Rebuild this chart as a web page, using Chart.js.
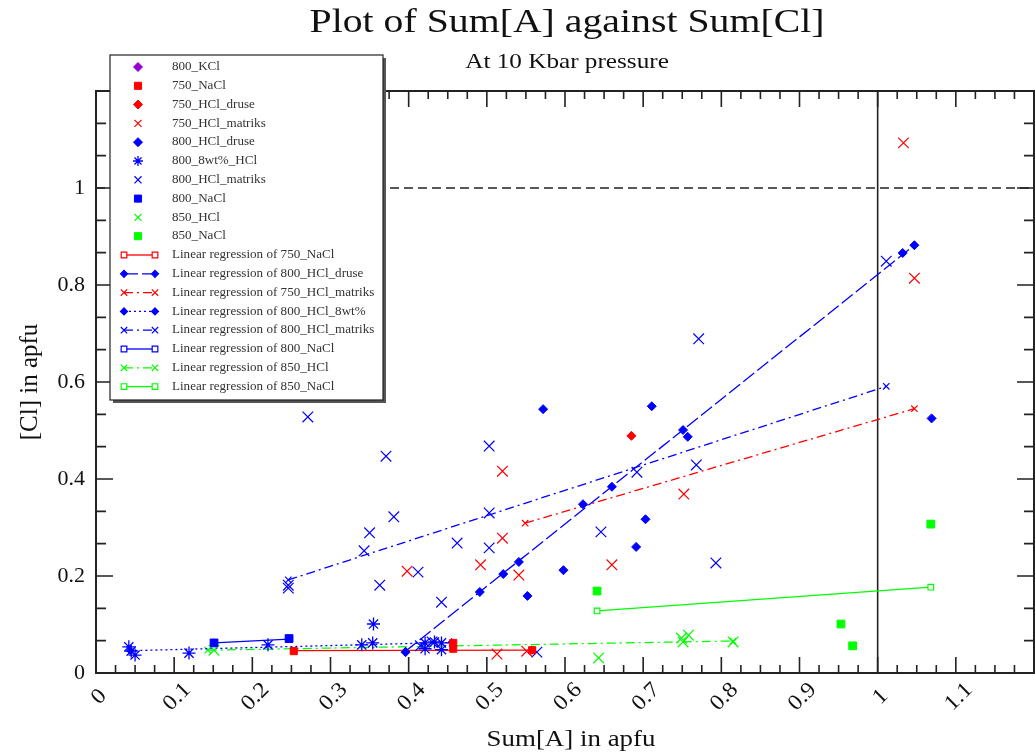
<!DOCTYPE html>
<html lang="en">
<head>
<meta charset="UTF-8">
<title>Plot of Sum[A] against Sum[Cl]</title>
<script src="https://cdn.jsdelivr.net/npm/chart.js"></script>
<style>
  html, body { margin: 0; background: #fff; overflow: hidden; }
  .wrap { position: relative; width: 1035px; height: 755px; }
  canvas { display: block; }
</style>
</head>
<body>
<div class="wrap"><canvas id="plot"></canvas></div>
<script>
// values: Sum[A] (x) and [Cl] (y), in apfu
const kcl800X = [];
const kcl800Y = [];
const nacl750X = [0.253, 0.457, 0.457, 0.558];
const nacl750Y = [0.045, 0.062, 0.050, 0.047];
const hcl750DruseX = [0.685];
const hcl750DruseY = [0.489];
const hcl750MatriksX = [1.033, 1.047, 0.520, 0.520, 0.492, 0.541, 0.660, 0.752, 0.398, 0.513, 0.551];
const hcl750MatriksY = [1.093, 0.814, 0.416, 0.278, 0.223, 0.202, 0.223, 0.369, 0.210, 0.039, 0.045];
const hcl800DruseX = [1.047, 1.032, 1.069, 0.572, 0.711, 0.751, 0.757, 0.623, 0.703, 0.691, 0.598, 0.552, 0.396, 0.541, 0.521, 0.491, 0.660];
const hcl800DruseY = [0.882, 0.866, 0.525, 0.544, 0.550, 0.501, 0.487, 0.348, 0.317, 0.260, 0.212, 0.159, 0.043, 0.229, 0.204, 0.167, 0.384];
const hcl800wtX = [0.042, 0.050, 0.045, 0.119, 0.220, 0.355, 0.340, 0.354, 0.421, 0.442, 0.421, 0.442, 0.433];
const hcl800wtY = [0.054, 0.037, 0.045, 0.041, 0.058, 0.101, 0.058, 0.062, 0.062, 0.062, 0.050, 0.048, 0.064];
const hcl800MatriksX = [1.011, 0.771, 0.271, 0.371, 0.381, 0.350, 0.343, 0.246, 0.246, 0.462, 0.363, 0.412, 0.442, 0.503, 0.503, 0.503, 0.646, 0.768, 0.793, 0.692, 0.564, 0.430, 0.415];
const hcl800MatriksY = [0.849, 0.689, 0.528, 0.447, 0.322, 0.289, 0.252, 0.181, 0.175, 0.268, 0.181, 0.208, 0.146, 0.468, 0.330, 0.258, 0.291, 0.429, 0.227, 0.414, 0.043, 0.064, 0.056];
const nacl800X = [0.151, 0.247];
const nacl800Y = [0.062, 0.071];
const hcl850X = [0.643, 0.749, 0.758, 0.751, 0.815, 0.151];
const hcl850Y = [0.031, 0.072, 0.078, 0.064, 0.064, 0.047];
const nacl850X = [0.641, 1.068, 0.953, 0.968];
const nacl850Y = [0.169, 0.307, 0.101, 0.056];

// regression lines, end points as drawn in the picture
const reg750NaclX = [0.253, 0.558];
const reg750NaclY = [0.046, 0.047];
const reg800DruseX = [0.396, 1.047];
const reg800DruseY = [0.045, 0.882];
const reg750MatriksX = [0.549, 1.047];
const reg750MatriksY = [0.309, 0.545];
const reg800wtX = [0.044, 0.455];
const reg800wtY = [0.046, 0.063];
const reg800MatriksX = [0.246, 1.011];
const reg800MatriksY = [0.192, 0.591];
const reg800NaclX = [0.151, 0.247];
const reg800NaclY = [0.062, 0.070];
const reg850HclX = [0.143, 0.815];
const reg850HclY = [0.047, 0.066];
const reg850NaclX = [0.641, 1.068];
const reg850NaclY = [0.128, 0.177];

// axes
const xMin = 0, xMax = 1.2, yMin = 0, yMax = 1.2;
const xTickLabels = ['0', '0.1', '0.2', '0.3', '0.4', '0.5', '0.6', '0.7', '0.8', '0.9', '1', '1.1'];
const yTickLabels = ['0', '0.2', '0.4', '0.6', '0.8', '1', ''];
const refX = 1, refY = 1;

const RED = '#ff0000', BLUE = '#0000ff', GREEN = '#00ff00', PURPLE = '#9400d3';
const SERIF = '"Liberation Serif", "Times New Roman", serif';

function pts(xs, ys) {
  return xs.map((x, i) => ({ x: x, y: ys[i] }));
}

function marks(label, xs, ys, color, style, r, bw) {
  return {
    label: label, data: pts(xs, ys), showLine: false,
    pointStyle: style, pointRadius: r, pointHoverRadius: r,
    pointBackgroundColor: color, pointBorderColor: color, pointBorderWidth: bw || 1
  };
}

function regLine(label, xs, ys, color, dash, style, r) {
  var open = style === 'rect';
  return {
    label: label, data: pts(xs, ys), showLine: true, reg: true,
    borderColor: color, borderWidth: 1.3, borderDash: dash,
    pointStyle: style, pointRadius: r, pointHoverRadius: r,
    pointBackgroundColor: open ? '#fff' : color, pointBorderColor: color, pointBorderWidth: 1.2
  };
}

const datasets = [
  marks('800_KCl', kcl800X, kcl800Y, PURPLE, 'rectRot', 4.5),
  marks('750_NaCl', nacl750X, nacl750Y, RED, 'rect', 5),
  marks('750_HCl_druse', hcl750DruseX, hcl750DruseY, RED, 'rectRot', 4.5),
  marks('750_HCl_matriks', hcl750MatriksX, hcl750MatriksY, RED, 'crossRot', 7.5, 1.2),
  marks('800_HCl_druse', hcl800DruseX, hcl800DruseY, BLUE, 'rectRot', 4.5),
  marks('800_8wt%_HCl', hcl800wtX, hcl800wtY, BLUE, 'star', 6.5, 1.3),
  marks('800_HCl_matriks', hcl800MatriksX, hcl800MatriksY, BLUE, 'crossRot', 7.5, 1.2),
  marks('800_NaCl', nacl800X, nacl800Y, BLUE, 'rect', 5.5),
  marks('850_HCl', hcl850X, hcl850Y, GREEN, 'crossRot', 7.5, 1.2),
  marks('850_NaCl', nacl850X, nacl850Y, GREEN, 'rect', 5.5),
  regLine('Linear regression of 750_NaCl', reg750NaclX, reg750NaclY, RED, [], 'rect', 4),
  regLine('Linear regression of 800_HCl_druse', reg800DruseX, reg800DruseY, BLUE, [14, 4], 'rectRot', 3.5),
  regLine('Linear regression of 750_HCl_matriks', reg750MatriksX, reg750MatriksY, RED, [9, 4, 2, 4], 'crossRot', 4.5),
  regLine('Linear regression of 800_HCl_8wt%', reg800wtX, reg800wtY, BLUE, [2, 3], 'rectRot', 3.5),
  regLine('Linear regression of 800_HCl_matriks', reg800MatriksX, reg800MatriksY, BLUE, [9, 4, 2, 4], 'crossRot', 4.5),
  regLine('Linear regression of 800_NaCl', reg800NaclX, reg800NaclY, BLUE, [], 'rect', 4),
  regLine('Linear regression of 850_HCl', reg850HclX, reg850HclY, GREEN, [9, 4, 2, 4], 'crossRot', 4.5),
  regLine('Linear regression of 850_NaCl', reg850NaclX, reg850NaclY, GREEN, [], 'rect', 4)
];

// the picture's lettering is set wide, so text is stretched sideways
function wideText(ctx, text, x, y, stretch) {
  ctx.save();
  ctx.translate(x, y);
  ctx.scale(stretch, 1);
  ctx.fillText(text, 0, 0);
  ctx.restore();
}

// dashed y = 1 and solid x = 1 lines
const refLines = {
  id: 'refLines',
  beforeDatasetsDraw(chart) {
    const ctx = chart.ctx, a = chart.chartArea;
    const xs = chart.scales.x, ys = chart.scales.y;
    ctx.save();
    ctx.strokeStyle = '#222';
    ctx.lineWidth = 1.6;
    ctx.setLineDash([9, 5]);
    const py = ys.getPixelForValue(refY);
    ctx.beginPath(); ctx.moveTo(a.left, py); ctx.lineTo(a.right, py); ctx.stroke();
    ctx.setLineDash([]);
    const px = xs.getPixelForValue(refX);
    ctx.beginPath(); ctx.moveTo(px, a.top); ctx.lineTo(px, a.bottom); ctx.stroke();
    ctx.restore();
  }
};

// frame with inward ticks on all four sides, rotated x labels centred on their ticks
const frame = {
  id: 'frame',
  afterDatasetsDraw(chart) {
    const ctx = chart.ctx, a = chart.chartArea;
    const xs = chart.scales.x, ys = chart.scales.y;
    ctx.save();
    ctx.strokeStyle = '#222';
    ctx.lineWidth = 2;
    ctx.strokeRect(a.left, a.top, a.right - a.left, a.bottom - a.top);
    ctx.lineWidth = 1.6;
    ctx.beginPath();
    for (let i = 1; i < 48; i++) {
      const px = xs.getPixelForValue(i * 0.025);
      const len = i % 4 === 0 ? 16 : 8;
      ctx.moveTo(px, a.bottom); ctx.lineTo(px, a.bottom - len);
      ctx.moveTo(px, a.top); ctx.lineTo(px, a.top + len);
    }
    for (let j = 1; j < 18; j++) {
      const py = ys.getPixelForValue(j * 0.2 / 3);
      const len = j % 3 === 0 ? 17 : 10;
      ctx.moveTo(a.left, py); ctx.lineTo(a.left + len, py);
      ctx.moveTo(a.right, py); ctx.lineTo(a.right - len, py);
    }
    ctx.stroke();

    ctx.fillStyle = '#111';
    ctx.font = '22px ' + SERIF;
    ctx.textAlign = 'center';
    ctx.textBaseline = 'middle';
    xTickLabels.forEach(function (t, i) {
      const px = xs.getPixelForValue(i / 10);
      ctx.save();
      ctx.translate(px + 3, a.bottom + 24);
      ctx.rotate(-Math.PI / 4);
      ctx.scale(1.08, 1);
      ctx.fillText(t, 0, 0);
      ctx.restore();
    });
    ctx.restore();
  }
};

// titles
const titles = {
  id: 'titles',
  afterDraw(chart) {
    const ctx = chart.ctx, a = chart.chartArea;
    const cx = (a.left + a.right) / 2 + 2;
    ctx.save();
    ctx.fillStyle = '#111';
    ctx.textAlign = 'center';
    ctx.textBaseline = 'middle';
    ctx.font = '34px ' + SERIF;
    wideText(ctx, 'Plot of Sum[A] against Sum[Cl]', cx, 23, 1.17);
    ctx.font = '21px ' + SERIF;
    wideText(ctx, 'At 10 Kbar pressure', cx, 62, 1.2);
    ctx.font = '23px ' + SERIF;
    wideText(ctx, 'Sum[A] in apfu', cx + 4, 740, 1.17);
    ctx.translate(30, (a.top + a.bottom) / 2);
    ctx.rotate(-Math.PI / 2);
    ctx.font = '25px ' + SERIF;
    ctx.fillText('[Cl] in apfu', 0, 0);
    ctx.restore();
  }
};

// legend box inside the plot
const legendBox = {
  id: 'legendBox',
  afterDraw(chart) {
    const ctx = chart.ctx;
    const bx = 110, by = 55, bw = 273, bh = 345;
    ctx.save();
    ctx.fillStyle = '#555';
    ctx.fillRect(bx + 3, by + 3, bw, bh);
    ctx.fillStyle = '#fff';
    ctx.fillRect(bx, by, bw, bh);
    ctx.strokeStyle = '#222';
    ctx.lineWidth = 1.2;
    ctx.strokeRect(bx, by, bw, bh);
    ctx.font = '12px ' + SERIF;
    ctx.textBaseline = 'middle';
    chart.data.datasets.forEach(function (ds, i) {
      const y = by + 12 + i * 18.8;
      const opts = { pointStyle: ds.pointStyle, rotation: 0, radius: ds.reg ? ds.pointRadius : Math.min(ds.pointRadius, 5), borderWidth: ds.pointBorderWidth };
      ctx.fillStyle = ds.pointBackgroundColor;
      ctx.strokeStyle = ds.pointBorderColor;
      ctx.lineWidth = ds.pointBorderWidth;
      if (ds.reg) {
        ctx.save();
        ctx.strokeStyle = ds.borderColor;
        ctx.lineWidth = ds.borderWidth;
        ctx.setLineDash(ds.borderDash);
        ctx.beginPath(); ctx.moveTo(124, y); ctx.lineTo(155, y); ctx.stroke();
        ctx.restore();
        ctx.setLineDash([]);
        Chart.helpers.drawPoint(ctx, opts, 124, y);
        ctx.fillStyle = ds.pointBackgroundColor;
        ctx.strokeStyle = ds.pointBorderColor;
        Chart.helpers.drawPoint(ctx, opts, 155, y);
      } else {
        Chart.helpers.drawPoint(ctx, opts, 138, y);
      }
      ctx.fillStyle = '#333';
      wideText(ctx, ds.label, 172, y, 1.09);
    });
    ctx.restore();
  }
};

new Chart(document.getElementById('plot'), {
  type: 'scatter',
  data: { datasets: datasets },
  options: {
    responsive: true,
    maintainAspectRatio: false,
    animation: false,
    events: [],
    layout: { autoPadding: false, padding: { top: 91, right: 1, left: 0, bottom: 0 } },
    plugins: { legend: { display: false }, tooltip: { enabled: false } },
    scales: {
      x: {
        type: 'linear', min: xMin, max: xMax,
        grid: { display: false, drawTicks: false },
        border: { display: false },
        afterFit: function (s) { s.height = 82; s.paddingLeft = 0; s.paddingRight = 0; },
        ticks: { display: false, stepSize: 0.1 }
      },
      y: {
        type: 'linear', min: yMin, max: yMax,
        grid: { display: false, drawTicks: false },
        border: { display: false },
        afterFit: function (s) { s.width = 96; s.paddingTop = 0; s.paddingBottom = 0; },
        ticks: {
          stepSize: 0.2, autoSkip: false, padding: 11,
          color: '#111', font: { family: SERIF, size: 22 },
          callback: function (v, i) { return yTickLabels[i]; }
        }
      }
    }
  },
  plugins: [refLines, frame, titles, legendBox]
});
</script>
</body>
</html>
